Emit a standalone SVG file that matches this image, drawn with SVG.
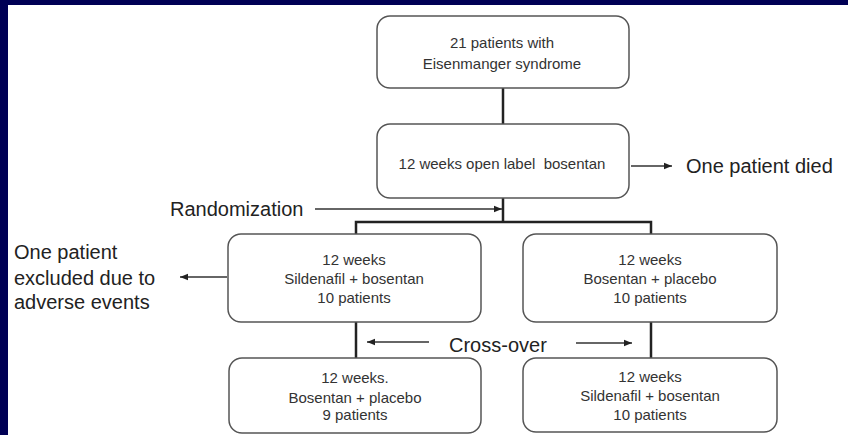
<svg xmlns="http://www.w3.org/2000/svg" width="848" height="435" viewBox="0 0 848 435">
  <defs>
    <marker id="ah" viewBox="0 0 10 10" refX="10" refY="5" markerWidth="8" markerHeight="8" markerUnits="userSpaceOnUse" orient="auto">
      <path d="M0,1 L10,5 L0,9 Z" fill="#222"/>
    </marker>
    <style>
      .box { fill: #fff; stroke: #555; stroke-width: 1.5; }
      .bt { font-family: "Liberation Sans", Arial, sans-serif; font-size: 15px; fill: #333; text-anchor: middle; }
      .lbl { font-family: "Liberation Sans", Arial, sans-serif; font-size: 20px; fill: #222; }
      .ln { stroke: #222; stroke-width: 2.5; fill: none; }
      .ar { stroke: #333; stroke-width: 1.3; fill: none; marker-end: url(#ah); }
    </style>
  </defs>
  <rect x="0" y="0" width="848" height="435" fill="#fff"/>
  <rect x="0" y="0" width="848" height="5" fill="#000055"/>
  <rect x="0" y="0" width="8" height="435" fill="#000055"/>

  <g id="connectors">
    <line class="ln" x1="503" y1="88" x2="503" y2="124"/>
    <line class="ln" x1="503" y1="198" x2="503" y2="222"/>
    <polyline class="ln" points="356,234 356,222 651,222 651,234"/>
    <line class="ln" x1="356" y1="322" x2="356" y2="358"/>
    <line class="ln" x1="651" y1="322" x2="651" y2="358"/>
    <line class="ar" x1="631" y1="166" x2="672" y2="166"/>
    <line class="ar" x1="315" y1="209" x2="502" y2="209"/>
    <line class="ar" x1="227" y1="277" x2="180" y2="277"/>
    <line class="ar" x1="429" y1="342" x2="367" y2="342"/>
    <line class="ar" x1="576" y1="343" x2="632" y2="343"/>
  </g>

  <g id="n1">
    <rect class="box" x="377" y="16" width="252" height="72" rx="13"/>
    <text class="bt" x="502" y="48">21 patients with</text>
    <text class="bt" x="502" y="69">Eisenmanger syndrome</text>
  </g>
  <g id="n2">
    <rect class="box" x="377" y="124" width="252" height="74" rx="13"/>
    <text class="bt" x="502" y="169" xml:space="preserve">12 weeks open label  bosentan</text>
  </g>
  <g id="n3">
    <rect class="box" x="228" y="234" width="253" height="88" rx="13"/>
    <text class="bt" x="354" y="265">12 weeks</text>
    <text class="bt" x="354" y="284">Sildenafil + bosentan</text>
    <text class="bt" x="354" y="303">10 patients</text>
  </g>
  <g id="n4">
    <rect class="box" x="523" y="234" width="254" height="88" rx="13"/>
    <text class="bt" x="650" y="265">12 weeks</text>
    <text class="bt" x="650" y="284">Bosentan + placebo</text>
    <text class="bt" x="650" y="303">10 patients</text>
  </g>
  <g id="n5">
    <rect class="box" x="229" y="358" width="252" height="75" rx="13"/>
    <text class="bt" x="355" y="383">12 weeks.</text>
    <text class="bt" x="355" y="403">Bosentan + placebo</text>
    <text class="bt" x="355" y="420">9 patients</text>
  </g>
  <g id="n6">
    <rect class="box" x="523" y="358" width="254" height="74" rx="13"/>
    <text class="bt" x="650" y="382">12 weeks</text>
    <text class="bt" x="650" y="401">Sildenafil + bosentan</text>
    <text class="bt" x="650" y="420">10 patients</text>
  </g>

  <g id="labels">
    <text class="lbl" x="686" y="173">One patient died</text>
    <text class="lbl" x="170" y="216">Randomization</text>
    <text class="lbl" x="14" y="259">One patient</text>
    <text class="lbl" x="14" y="285">excluded due to</text>
    <text class="lbl" x="14" y="309">adverse events</text>
    <text class="lbl" x="449" y="352">Cross-over</text>
  </g>
</svg>
